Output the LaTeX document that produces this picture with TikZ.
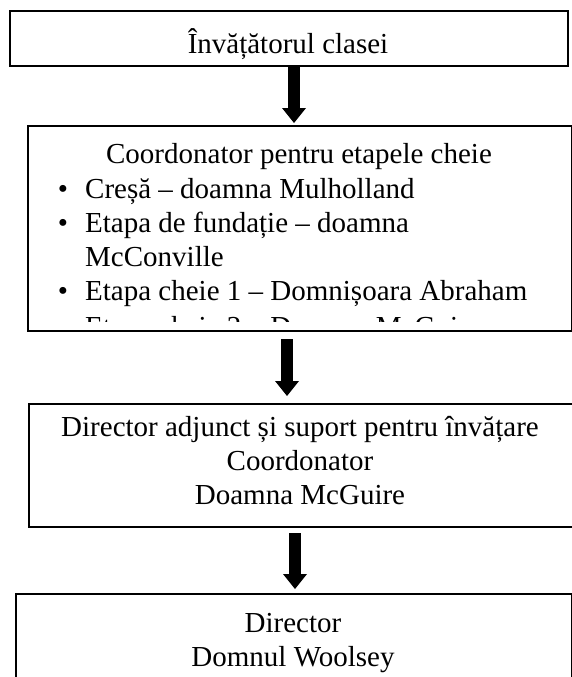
\documentclass[tikz,border=0pt]{standalone}
\usepackage{fontspec}
\setmainfont{Liberation Serif}
\usetikzlibrary{arrows.meta}
\tikzset{
  boxst/.style={draw=black, line width=2pt, fill=none, inner sep=0pt, anchor=north west},
  txt/.style={inner sep=0pt, anchor=base, font=\fontsize{29}{34}\selectfont},
  ltxt/.style={inner sep=0pt, anchor=base west, font=\fontsize{29}{34}\selectfont},
  bul/.style={inner sep=0pt, anchor=base, font=\fontsize{29}{34}\selectfont},
  blockarrow/.style={line width=12pt, -{Triangle[width=24pt,length=15pt,line width=0pt]}},
}
\begin{document}
\begin{tikzpicture}[x=1pt,y=-1pt]
\useasboundingbox (0,0) rectangle (572,677);
\fill[white] (0,0) rectangle (572,677);
\clip (0,0) rectangle (572,677);
% boxes
\node[boxst, minimum width=558pt, minimum height=55pt] (b1) at (9,10) {};
\node[boxst, minimum width=544pt, minimum height=205pt] (b2) at (27,125) {};
\node[boxst, minimum width=600pt, minimum height=123pt] (b3) at (28,403) {};
\node[boxst, minimum width=556pt, minimum height=120pt] (b4) at (15,593) {};
% box 1 text
\node[txt] (t1) at (288,53) {Învățătorul clasei};
% box 2 text
\begin{scope}
\clip (27,125) rectangle (571,321);
\node[txt] (t2h) at (299,163) {Coordonator pentru etapele cheie};
\node[bul] (bu1) at (63,198) {•};
\node[ltxt] (l1) at (85,198) {Creșă – doamna Mulholland};
\node[bul] (bu2) at (63,232) {•};
\node[ltxt] (l2) at (85,232) {Etapa de fundație – doamna};
\node[ltxt] (l2b) at (85,266) {McConville};
\node[bul] (bu3) at (63,300) {•};
\node[ltxt] (l3) at (85,300) {Etapa cheie 1 – Domnișoara Abraham};
\node[bul] (bu4) at (63,336) {•};
\node[ltxt] (l4) at (85,336) {Etapa cheie 2 – Doamna McGuire};
\end{scope}
% box 3 text
\node[txt] (t3a) at (300,436) {Director adjunct și suport pentru învățare};
\node[txt] (t3b) at (300,470) {Coordonator};
\node[txt] (t3c) at (300,504) {Doamna McGuire};
% box 4 text
\node[txt] (t4a) at (293,632) {Director};
\node[txt] (t4b) at (293,666) {Domnul Woolsey};
% arrows
\coordinate (a1s) at (294,67);
\coordinate (a1e) at (294,123);
\coordinate (a2s) at (287,339);
\coordinate (a2e) at (287,396);
\coordinate (a3s) at (295,533);
\coordinate (a3e) at (295,589);
\draw[blockarrow] (a1s) -- (a1e);
\draw[blockarrow] (a2s) -- (a2e);
\draw[blockarrow] (a3s) -- (a3e);
\end{tikzpicture}
\end{document}
